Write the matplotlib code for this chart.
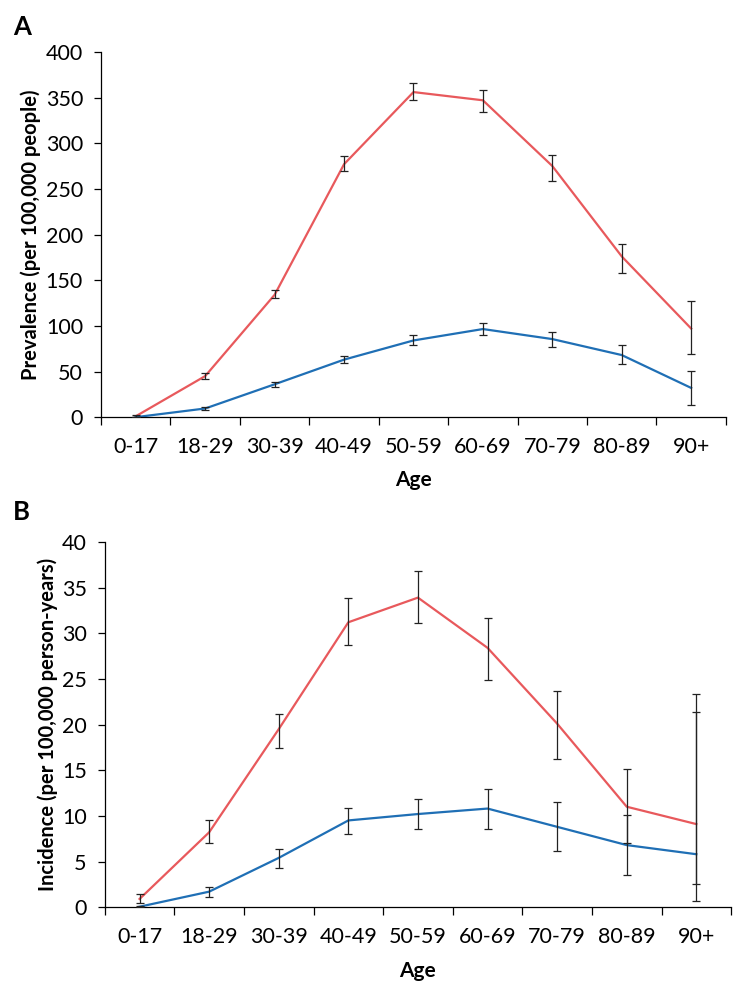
import numpy as np
import matplotlib
matplotlib.use("Agg")
import matplotlib.pyplot as plt

plt.rcParams['font.family'] = ['Lato', 'DejaVu Sans']

ages = ['0-17', '18-29', '30-39', '40-49', '50-59', '60-69', '70-79', '80-89', '90+']

# Panel A: prevalence (per 100,000 people)
prev_red = [1, 45, 134, 277, 356, 347, 275, 176, 97]
prev_red_lo = [0.5, 42, 130, 270, 347, 334, 259, 158, 69]
prev_red_hi = [2, 48, 139, 286, 366, 358, 287, 190, 127]
prev_blue = [0, 9.5, 36, 63, 84, 96.5, 85.5, 68, 32]
prev_blue_lo = [0, 7.5, 33.5, 59, 79, 90, 77, 58, 13]
prev_blue_hi = [0, 11.5, 38.5, 67, 90, 103, 93.5, 79, 51]

# Panel B: incidence (per 100,000 person-years)
inc_red = [0.9, 8.2, 19.5, 31.2, 33.9, 28.4, 20.1, 11.0, 9.1]
inc_red_lo = [0.5, 7.0, 17.4, 28.7, 31.1, 24.9, 16.2, 7.0, 2.5]
inc_red_hi = [1.4, 9.5, 21.2, 33.9, 36.8, 31.7, 23.7, 15.1, 23.3]
inc_blue = [0.05, 1.7, 5.4, 9.5, 10.2, 10.8, 8.8, 6.8, 5.8]
inc_blue_lo = [0.0, 1.1, 4.3, 8.0, 8.6, 8.6, 6.2, 3.5, 0.7]
inc_blue_hi = [0.1, 2.2, 6.35, 10.9, 11.8, 12.9, 11.5, 10.1, 21.4]

RED = '#E8595C'
BLUE = '#1F6FB5'
x = np.arange(len(ages))


def panel(ax, series, ymax, ystep, ylabel):
    for vals, lo, hi, col in series:
        vals = np.array(vals)
        yerr = [vals - np.array(lo), np.array(hi) - vals]
        ax.plot(x, vals, color=col, lw=1.6, zorder=2)
        ax.errorbar(x, vals, yerr=yerr, fmt='none', ecolor='#222222',
                    elinewidth=0.9, capsize=2.6, capthick=0.9, zorder=3)
    ax.set_xlim(-0.5, len(ages) - 0.5)
    ax.set_ylim(0, ymax)
    ax.set_yticks(np.arange(0, ymax + 1e-9, ystep))
    ax.set_xticks(x)
    ax.set_xticklabels(ages)
    ax.set_xticks(np.arange(-0.5, len(ages)), minor=True)
    ax.tick_params(axis='x', which='major', length=0, pad=14, labelsize=15.5)
    ax.tick_params(axis='x', which='minor', length=5.5, width=0.9, direction='out')
    ax.tick_params(axis='y', length=5, width=0.9, direction='out', labelsize=15.5, pad=8)
    for s in ['top', 'right']:
        ax.spines[s].set_visible(False)
    for s in ['left', 'bottom']:
        ax.spines[s].set_linewidth(0.9)
    ax.set_xlabel('Age', fontsize=15, fontweight='bold', labelpad=10)
    ax.set_ylabel(ylabel, fontsize=14.5, fontweight='bold', labelpad=3)


fig = plt.figure(figsize=(7.43, 9.98), dpi=100)
axA = fig.add_axes([0.136, 0.582, 0.841, 0.366])
axB = fig.add_axes([0.141, 0.091, 0.843, 0.366])

panel(axA, [(prev_red, prev_red_lo, prev_red_hi, RED),
            (prev_blue, prev_blue_lo, prev_blue_hi, BLUE)],
      400, 50, 'Prevalence (per 100,000 people)')
panel(axB, [(inc_red, inc_red_lo, inc_red_hi, RED),
            (inc_blue, inc_blue_lo, inc_blue_hi, BLUE)],
      40, 5, 'Incidence (per 100,000 person-years)')

fig.text(0.018, 0.965, 'A', fontsize=18.5, fontweight='bold', va='baseline')
fig.text(0.018, 0.479, 'B', fontsize=18.5, fontweight='bold', va='baseline')

fig.savefig('out.png', dpi=100)
